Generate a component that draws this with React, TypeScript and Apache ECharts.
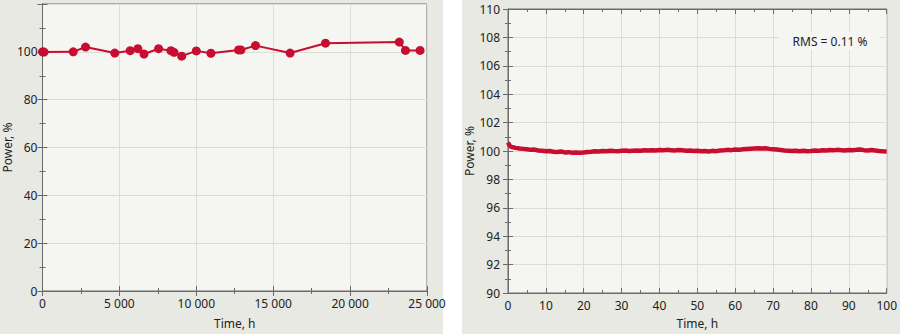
import React, { useEffect, useRef } from "react";
import * as echarts from "echarts";

// Left chart: long-term power measurements
const longTimes = [0, 100, 2000, 2800, 4700, 5700, 6200, 6600, 7550, 8350, 8550, 9050, 10000, 10950, 12750, 12900, 13850, 16100, 18400, 23200, 23600, 24550];
const longPower = [100.0, 99.9, 100.0, 102.0, 99.5, 100.5, 101.3, 99.1, 101.3, 100.5, 99.8, 98.2, 100.4, 99.4, 100.8, 100.8, 102.6, 99.5, 103.6, 104.1, 100.6, 100.6];

// Right chart: short-term stability trace
const shortTimes = [0, 0.5, 1, 2, 3, 4, 5, 6, 7, 8, 9, 10, 11, 12, 13, 14, 15, 16, 17, 18, 19, 20, 21, 22, 23, 24, 25, 26, 27, 28, 29, 30, 31, 32, 33, 34, 35, 36, 37, 38, 39, 40, 41, 42, 43, 44, 45, 46, 47, 48, 49, 50, 51, 52, 53, 54, 55, 56, 57, 58, 59, 60, 61, 62, 63, 64, 65, 66, 67, 68, 69, 70, 71, 72, 73, 74, 75, 76, 77, 78, 79, 80, 81, 82, 83, 84, 85, 86, 87, 88, 89, 90, 91, 92, 93, 94, 95, 96, 97, 98, 99, 100];
const shortPower = [100.6, 100.35, 100.28, 100.22, 100.18, 100.15, 100.12, 100.08, 100.1, 100.04, 100.02, 99.98, 100.0, 99.95, 99.93, 99.96, 99.9, 99.92, 99.88, 99.9, 99.87, 99.9, 99.93, 99.95, 99.98, 99.96, 100.0, 99.98, 100.02, 100.0, 99.99, 100.01, 100.03, 100.0, 100.02, 100.04, 100.02, 100.05, 100.03, 100.06, 100.04, 100.07, 100.05, 100.08, 100.06, 100.04, 100.07, 100.05, 100.02, 100.04, 100.0, 100.02, 99.98, 100.0, 99.97, 100.01, 99.99, 100.03, 100.05, 100.08, 100.06, 100.1, 100.08, 100.12, 100.14, 100.16, 100.18, 100.2, 100.17, 100.19, 100.15, 100.13, 100.1, 100.07, 100.04, 100.02, 100.0, 100.02, 99.99, 100.01, 99.98, 100.0, 100.03, 100.01, 100.05, 100.03, 100.07, 100.05, 100.08, 100.06, 100.04, 100.07, 100.05, 100.08, 100.1, 100.06, 100.04, 100.07, 100.03, 100.0, 99.98, 99.97];

const rmsText = "RMS = 0.11 %";
const xName = "Time, h";
const yName = "Power, %";

const RED = "#c70d30";
const OUTER = "#e9e9e3";
const PLOT = "#f5f5f1";
const GRIDC = "#dcdcd8";
const AXC = "#6b6b6b";
const FONT = "Noto Sans";

const thousands = (v: number) => String(v).replace(/\B(?=(\d{3})+(?!\d))/g, " ");

function axisBase(min: number, max: number, interval: number) {
  return {
    type: "value" as const,
    min,
    max,
    interval,
    axisLine: { show: true, lineStyle: { color: AXC, width: 1 } },
    axisTick: { show: true, inside: true, length: 5, lineStyle: { color: AXC } },
    minorTick: { show: true, splitNumber: 2, length: 3, lineStyle: { color: AXC } },
    splitLine: { show: true, lineStyle: { color: GRIDC, width: 1 } },
    minorSplitLine: { show: false },
    axisLabel: { color: "#222", fontFamily: FONT, fontSize: 12 },
  };
}

function mirror(min: number, max: number, interval: number, position: string, gridIndex: number) {
  const a: any = axisBase(min, max, interval);
  a.position = position;
  a.gridIndex = gridIndex;
  a.axisLabel = { show: false };
  a.splitLine = { show: false };
  return a;
}

export default function App() {
  const ref = useRef<HTMLDivElement>(null);
  useEffect(() => {
    if (!ref.current) return;
    const chart = echarts.init(ref.current, undefined, { renderer: "svg" });
    const option: any = {
      animation: false,
      backgroundColor: "#ffffff",
      graphic: [
        { type: "rect", z: -10, shape: { x: 0, y: 0, width: 443, height: 334 }, style: { fill: OUTER }, silent: true },
        { type: "rect", z: -10, shape: { x: 462, y: 0, width: 438, height: 334 }, style: { fill: OUTER }, silent: true },
        { type: "rect", z: 50, shape: { x: 779, y: 32, width: 101, height: 18 }, style: { fill: PLOT }, silent: true },
        {
          type: "text",
          z: 51,
          x: 830,
          y: 41,
          style: { text: rmsText, fill: "#222", font: `12px "${FONT}"`, align: "center", verticalAlign: "middle" },
          silent: true,
        },
      ],
      grid: [
        { left: 42, right: 473, top: 4, bottom: 38, show: true, backgroundColor: PLOT, borderColor: AXC, borderWidth: 1 },
        { left: 508, right: 11, top: 9, bottom: 34, show: true, backgroundColor: PLOT, borderColor: AXC, borderWidth: 1 },
      ],
      xAxis: [
        {
          ...axisBase(0, 25000, 5000),
          gridIndex: 0,
          position: "bottom",
          name: xName,
          nameLocation: "middle",
          nameGap: 26,
          nameTextStyle: { color: "#222", fontFamily: FONT, fontSize: 12 },
          axisLabel: { color: "#222", fontFamily: FONT, fontSize: 12, formatter: thousands, margin: 6 },
        },
        mirror(0, 25000, 5000, "top", 0),
        {
          ...axisBase(0, 100, 10),
          gridIndex: 1,
          position: "bottom",
          name: xName,
          nameLocation: "middle",
          nameGap: 24,
          nameTextStyle: { color: "#222", fontFamily: FONT, fontSize: 12 },
          axisLabel: { color: "#222", fontFamily: FONT, fontSize: 12, margin: 6 },
        },
        mirror(0, 100, 10, "top", 1),
      ],
      yAxis: [
        {
          ...axisBase(0, 120, 20),
          gridIndex: 0,
          position: "left",
          name: yName,
          nameLocation: "middle",
          nameGap: 29,
          nameTextStyle: { color: "#222", fontFamily: FONT, fontSize: 12 },
          axisLabel: { color: "#222", fontFamily: FONT, fontSize: 12, showMaxLabel: false, margin: 5 },
        },
        mirror(0, 120, 20, "right", 0),
        {
          ...axisBase(90, 110, 2),
          gridIndex: 1,
          position: "left",
          name: yName,
          nameLocation: "middle",
          nameGap: 32,
          nameTextStyle: { color: "#222", fontFamily: FONT, fontSize: 12 },
          axisLabel: { color: "#222", fontFamily: FONT, fontSize: 12, margin: 8 },
        },
        mirror(90, 110, 2, "right", 1),
      ],
      series: [
        {
          type: "line",
          xAxisIndex: 0,
          yAxisIndex: 0,
          data: longTimes.map((t, i) => [t, longPower[i]]),
          symbol: "circle",
          symbolSize: 9,
          lineStyle: { color: RED, width: 2 },
          itemStyle: { color: RED },
          z: 5,
        },
        {
          type: "line",
          xAxisIndex: 2,
          yAxisIndex: 2,
          data: shortTimes.map((t, i) => [t, shortPower[i]]),
          showSymbol: false,
          symbol: "none",
          lineStyle: { color: RED, width: 4.5 },
          z: 5,
        },
      ],
    };
    chart.setOption(option);
    return () => chart.dispose();
  }, []);
  return (
    <div
      ref={ref}
      style={{ position: "absolute", left: 0, top: 0, width: 900, height: 334 }}
    />
  );
}
